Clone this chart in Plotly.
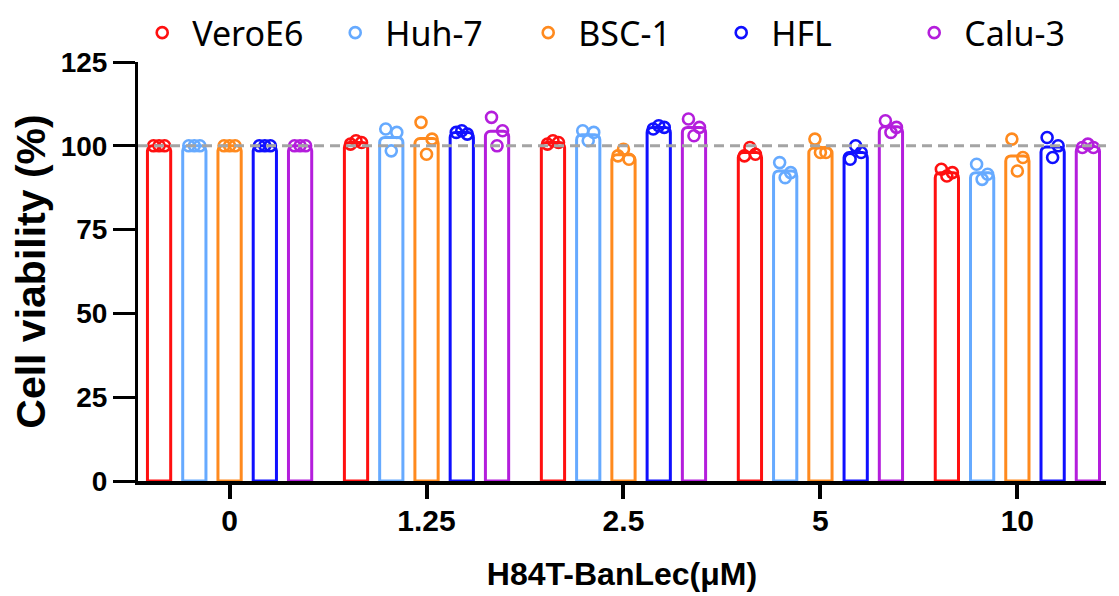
import plotly.graph_objects as go
import numpy as np

categories = ["0", "1.25", "2.5", "5", "10"]
series_names = ["VeroE6", "Huh-7", "BSC-1", "HFL", "Calu-3"]
colors = ["#FF1010", "#66AAFF", "#FF8A1E", "#1010FF", "#B41EDC"]

# replicate values (3 per concentration) for each cell line
vero = [[100, 100, 100], [100.5, 101, 101.5], [100.5, 101, 101.5], [97, 97.5, 99.5], [93, 92, 91]]
huh7 = [[100, 100, 100], [105, 104, 98.5], [104.5, 104, 101.5], [95, 92, 90.5], [94.5, 91.5, 90]]
bsc1 = [[100, 100, 100], [107, 102, 97.5], [97, 96, 99], [102, 98, 98], [102, 96.5, 92.5]]
hfl = [[100, 100, 100], [104, 103.5, 104.5], [105, 105.5, 106], [96, 98, 100], [102.5, 100, 96.5]]
calu3 = [[100, 100, 100], [108.5, 104.5, 100], [108, 105.5, 103], [107.5, 105.5, 104], [99.5, 99.5, 100.5]]

all_series = [vero, huh7, bsc1, hfl, calu3]

spacing = 0.179
bar_w = 0.118
jitter = [-0.028, 0.028, 0.0]
FONT = "Liberation Sans, Arial, sans-serif"

fig = go.Figure()
gidx = np.arange(len(categories))
for i, (name, col, reps) in enumerate(zip(series_names, colors, all_series)):
    xs = gidx + (i - 2) * spacing
    means = [float(np.mean(r)) for r in reps]
    fig.add_trace(go.Bar(
        x=xs, y=means, width=bar_w,
        marker=dict(color="rgba(255,255,255,0)", line=dict(color=col, width=3), cornerradius=5),
        showlegend=False, hoverinfo="skip"))
for i, (name, col, reps) in enumerate(zip(series_names, colors, all_series)):
    xs = gidx + (i - 2) * spacing
    px, py = [], []
    for g, r in enumerate(reps):
        for k, v in enumerate(r):
            px.append(xs[g] + jitter[k])
            py.append(v)
    fig.add_trace(go.Scatter(
        x=px, y=py, mode="markers", name=name,
        marker=dict(symbol="circle-open", size=11, color=col, line=dict(width=2.6, color=col))))

fig.add_shape(type="line", xref="paper", yref="y", x0=0, x1=1, y0=100, y1=100,
              line=dict(color="#A4A4A4", width=3, dash="10px,6px"), layer="above")

fig.update_layout(
    width=1119, height=596,
    margin=dict(l=130, r=21, t=47, b=123),
    plot_bgcolor="white", paper_bgcolor="white",
    font=dict(family=FONT, color="black"),
    showlegend=True,
    legend=dict(orientation="h", xref="container", yref="container",
                x=0.111, xanchor="left", y=0.958, yanchor="middle",
                font=dict(size=34, color="black", family="Noto Sans, sans-serif"),
                entrywidth=128, itemwidth=50,
                bgcolor="rgba(0,0,0,0)"),
    xaxis=dict(range=[-0.465, 4.45], tickmode="array", tickvals=list(gidx), ticktext=categories,
               showline=True, linecolor="black", linewidth=4, ticks="outside", ticklen=14,
               tickwidth=4, tickcolor="black", showgrid=False, zeroline=False, automargin=False,
               ticklabelstandoff=-4,
               tickfont=dict(size=30, family=FONT, color="black", weight="bold"),
               title=dict(text="<b>H84T-BanLec(μM)</b>", font=dict(size=32), standoff=28)),
    yaxis=dict(range=[0, 125], tickvals=[0, 25, 50, 75, 100, 125],
               showline=True, linecolor="black", linewidth=3, ticks="outside", ticklen=22,
               tickwidth=3, tickcolor="black", showgrid=False, zeroline=False, automargin=False,
               tickfont=dict(size=28, family=FONT, color="black", weight="bold"),
               title=dict(text="<b>Cell viability (%)</b>", font=dict(size=41), standoff=8)),
)

fig.write_html("out.html")
